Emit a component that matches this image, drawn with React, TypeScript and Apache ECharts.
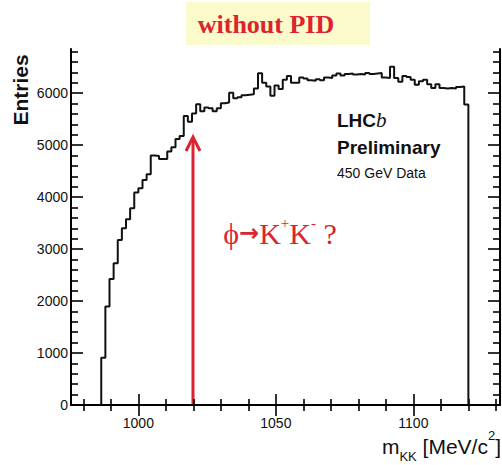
import React, { useEffect, useRef } from "react";
import * as echarts from "echarts";

// Histogram of m_KK (MeV/c^2), bins of 1.5 MeV starting at 986.5
const BIN_START = 986.5;
const BIN_WIDTH = 1.5;
const counts = [
  910, 1893, 2425, 2727, 3176, 3400, 3574, 3786, 4087, 4170,
  4331, 4441, 4800, 4790, 4735, 4735, 4876, 4960, 5120, 5178,
  5560, 5450, 5610, 5785, 5650, 5725, 5711, 5650, 5711, 5807,
  5820, 6010, 5904, 5920, 5960, 5970, 5980, 6090, 6385, 6200,
  6130, 5950, 6150, 6080, 6260, 6330, 6200, 6200, 6300, 6280,
  6250, 6240, 6270, 6250, 6300, 6290, 6340, 6380, 6340, 6370,
  6380, 6360, 6370, 6360, 6390, 6370, 6380, 6390, 6300, 6290,
  6510, 6290, 6220, 6330, 6310, 6260, 6160, 6230, 6260, 6170,
  6100, 6170, 6100, 6090, 6100, 6090, 6120, 6130, 5780,
];

const X_MIN = 975.5;
const X_MAX = 1131.5;
const Y_MIN = 0;
const Y_MAX = 6850;

const X_MAJOR = [1000, 1050, 1100];
const X_MINOR = [980, 990, 1010, 1020, 1030, 1040, 1060, 1070, 1080, 1090, 1110, 1120, 1130];
const Y_MAJOR = [0, 1000, 2000, 3000, 4000, 5000, 6000];
const Y_MINOR = [
  200, 400, 600, 800, 1200, 1400, 1600, 1800, 2200, 2400, 2600, 2800,
  3200, 3400, 3600, 3800, 4200, 4400, 4600, 4800, 5200, 5400, 5600, 5800,
  6200, 6400, 6600, 6800,
];

const TITLE = "without PID";
const Y_TITLE = "Entries";

const SANS = "Liberation Sans, Arial, sans-serif";
const SERIF = "Liberation Serif, Times New Roman, serif";
const RED = "#dc2330";

function buildSteps() {
  const pts: number[][] = [[BIN_START, 0]];
  counts.forEach((v, i) => pts.push([BIN_START + i * BIN_WIDTH, v]));
  pts.push([BIN_START + counts.length * BIN_WIDTH, 0]);
  return pts;
}

const plain = (v: number) => String(v);

export default function App() {
  const ref = useRef<HTMLDivElement>(null);
  useEffect(() => {
    if (!ref.current) return;
    const chart = echarts.init(ref.current, undefined, { renderer: "svg" });
    const gridRect = { left: 71, right: 2, top: 49, bottom: 60 };
    const axisLine = { show: true, lineStyle: { color: "#000", width: 2 } };
    const noLine = { show: false };
    const noSplit = { show: false };
    const xBase = { type: "value", min: X_MIN, max: X_MAX, splitLine: noSplit };
    const yBase = { type: "value", min: Y_MIN, max: Y_MAX, splitLine: noSplit };
    const tickStyle = { color: "#000", width: 1.6 };

    chart.setOption({
      animation: false,
      textStyle: { fontFamily: SANS },
      grid: [
        { ...gridRect, show: false },
        { ...gridRect, show: false },
      ],
      xAxis: [
        {
          ...xBase,
          gridIndex: 0,
          position: "bottom",
          axisLine,
          axisTick: { show: true, inside: true, length: 11, customValues: X_MAJOR, lineStyle: tickStyle },
          axisLabel: { show: true, customValues: X_MAJOR, formatter: plain, margin: 11, fontSize: 14, color: "#111", fontFamily: SANS },
        },
        {
          ...xBase,
          gridIndex: 0,
          position: "top",
          axisLine,
          axisTick: { show: true, inside: true, length: 11, customValues: X_MAJOR, lineStyle: tickStyle },
          axisLabel: { show: false },
        },
        {
          ...xBase,
          gridIndex: 1,
          position: "bottom",
          axisLine: noLine,
          axisTick: { show: true, inside: true, length: 6, customValues: X_MINOR, lineStyle: tickStyle },
          axisLabel: { show: false },
        },
        {
          ...xBase,
          gridIndex: 1,
          position: "top",
          axisLine: noLine,
          axisTick: { show: true, inside: true, length: 6, customValues: X_MINOR, lineStyle: tickStyle },
          axisLabel: { show: false },
        },
      ],
      yAxis: [
        {
          ...yBase,
          gridIndex: 0,
          position: "left",
          axisLine,
          axisTick: { show: true, inside: true, length: 12, customValues: Y_MAJOR, lineStyle: tickStyle },
          axisLabel: { show: true, customValues: Y_MAJOR, formatter: plain, margin: 3, fontSize: 14, color: "#111", fontFamily: SANS },
        },
        {
          ...yBase,
          gridIndex: 0,
          position: "right",
          axisLine,
          axisTick: { show: true, inside: true, length: 12, customValues: Y_MAJOR, lineStyle: tickStyle },
          axisLabel: { show: false },
        },
        {
          ...yBase,
          gridIndex: 1,
          position: "left",
          axisLine: noLine,
          axisTick: { show: true, inside: true, length: 7, customValues: Y_MINOR, lineStyle: tickStyle },
          axisLabel: { show: false },
        },
        {
          ...yBase,
          gridIndex: 1,
          position: "right",
          axisLine: noLine,
          axisTick: { show: true, inside: true, length: 7, customValues: Y_MINOR, lineStyle: tickStyle },
          axisLabel: { show: false },
        },
      ],
      series: [
        {
          type: "line",
          xAxisIndex: 0,
          yAxisIndex: 0,
          step: "end",
          showSymbol: false,
          symbol: "none",
          lineStyle: { color: "#111", width: 2 },
          data: buildSteps(),
          z: 3,
        },
      ],
      graphic: [
        { type: "rect", shape: { x: 186, y: 2, width: 184, height: 43 }, style: { fill: "#fafacb" } },
        {
          type: "text",
          x: 266,
          y: 24,
          style: { text: TITLE, fontFamily: SERIF, fontWeight: "bold", fontSize: 26, fill: RED, align: "center", verticalAlign: "middle" },
        },
        {
          type: "text",
          x: 20,
          y: 90,
          rotation: Math.PI / 2,
          style: { text: Y_TITLE, fontFamily: SANS, fontWeight: "bold", fontSize: 21, fill: "#111", align: "center", verticalAlign: "middle" },
        },
        {
          type: "text",
          x: 501,
          y: 446,
          style: {
            text: "{m|m}{s|KK}{m| [MeV/c}{p|2}{m|]}",
            align: "right",
            verticalAlign: "middle",
            fill: "#111",
            rich: {
              m: { fontFamily: SANS, fontSize: 21, lineHeight: 34, fill: "#111" },
              s: { fontFamily: SANS, fontSize: 13, lineHeight: 10, verticalAlign: "bottom", fill: "#111" },
              p: { fontFamily: SANS, fontSize: 13, lineHeight: 24, verticalAlign: "top", fill: "#111" },
            },
          },
        },
        {
          type: "text",
          x: 337,
          y: 120,
          style: {
            text: "{a|LHC}{b|b}",
            align: "left",
            verticalAlign: "middle",
            rich: {
              a: { fontFamily: SANS, fontWeight: "bold", fontSize: 19, fill: "#111" },
              b: { fontFamily: SERIF, fontStyle: "italic", fontSize: 21, fill: "#111" },
            },
          },
        },
        {
          type: "text",
          x: 337,
          y: 147,
          style: { text: "Preliminary", fontFamily: SANS, fontWeight: "bold", fontSize: 19, fill: "#111", align: "left", verticalAlign: "middle" },
        },
        {
          type: "text",
          x: 337,
          y: 173,
          style: { text: "450 GeV Data", fontFamily: SANS, fontSize: 14, fill: "#111", align: "left", verticalAlign: "middle" },
        },
        { type: "line", shape: { x1: 193, y1: 404, x2: 193, y2: 138 }, style: { stroke: RED, lineWidth: 3 } },
        {
          type: "polyline",
          shape: { points: [[186, 151], [193, 137], [200, 151]] },
          style: { stroke: RED, lineWidth: 3, fill: null },
        },
        {
          type: "text",
          x: 280,
          y: 233,
          style: {
            text: "{m|\u03D5}{a|\u2192}{m|K}{p|+}{m|K}{p|-}{m| ?}",
            align: "center",
            verticalAlign: "middle",
            rich: {
              m: { fontFamily: SERIF, fontSize: 30, lineHeight: 36, fill: RED },
              a: { fontFamily: "DejaVu Sans", fontWeight: "bold", fontSize: 24, lineHeight: 36, fill: RED },
              p: { fontFamily: SERIF, fontSize: 15, lineHeight: 22, verticalAlign: "top", fill: RED },
            },
          },
        },
      ],
    });
    return () => chart.dispose();
  }, []);
  return (
    <div
      ref={ref}
      style={{ position: "absolute", left: 0, top: 0, width: 502, height: 465 }}
    />
  );
}
